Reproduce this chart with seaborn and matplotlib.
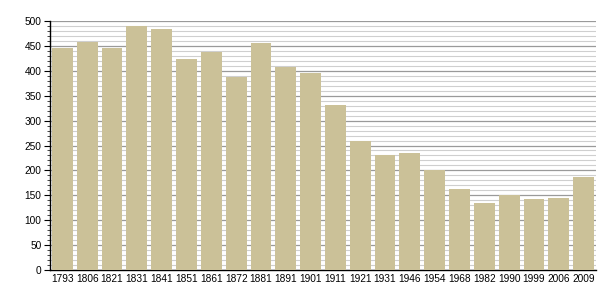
import matplotlib
matplotlib.use("Agg")
import matplotlib.pyplot as plt
from matplotlib.ticker import MultipleLocator
import seaborn as sns
import pandas as pd

years = ["1793", "1806", "1821", "1831", "1841", "1851", "1861", "1872", "1881", "1891", "1901",
         "1911", "1921", "1931", "1946", "1954", "1968", "1982", "1990", "1999", "2006", "2009"]
population = [445, 458, 446, 490, 484, 424, 438, 388, 456, 408, 396,
              331, 260, 231, 235, 201, 163, 135, 150, 143, 145, 187]

df = pd.DataFrame({"year": years, "pop": population})

sns.set_style("white")
plt.rcParams["font.family"] = ["Liberation Sans", "DejaVu Sans"]

fig = plt.figure(figsize=(6.05, 3.0), dpi=100)
ax = fig.add_axes([0.0826, 0.1, 0.9025, 0.83])

sns.barplot(data=df, x="year", y="pop", color="#CBC198", saturation=1, width=0.84,
            linewidth=0, edgecolor="none", ax=ax, zorder=3)

ax.set_ylim(0, 500)
ax.set_xlim(-0.5, len(years) - 0.5)
ax.yaxis.set_major_locator(MultipleLocator(50))
ax.yaxis.set_minor_locator(MultipleLocator(10))
ax.grid(which="major", axis="y", color="#9a9a9a", linewidth=0.9, zorder=0)
ax.grid(which="minor", axis="y", color="#cfcfcf", linewidth=0.8, zorder=0)
ax.set_axisbelow(True)

for s in ["top", "right"]:
    ax.spines[s].set_visible(False)
ax.spines["left"].set_color("black")
ax.spines["bottom"].set_color("black")
ax.spines["left"].set_linewidth(1.0)
ax.spines["bottom"].set_linewidth(1.0)

ax.tick_params(axis="y", which="major", length=4, width=0.8, direction="out", left=True, labelsize=7.3, colors="black", pad=2)
ax.tick_params(axis="y", which="minor", length=2, width=0.6, direction="out", left=True)
ax.tick_params(axis="x", length=0, labelsize=7.3, colors="black", pad=3)
ax.set_xlabel("")
ax.set_ylabel("")

fig.savefig("out.png", dpi=100)
